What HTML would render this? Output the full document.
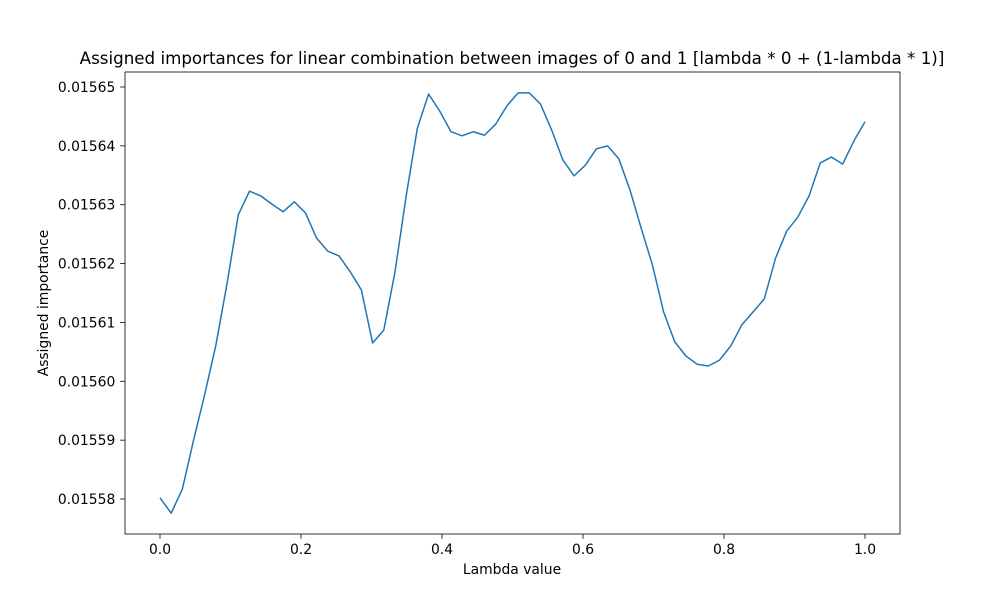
<!DOCTYPE html>
<html><head><meta charset="utf-8"><style>
body{margin:0;background:#fff;}
svg{font-family:"DejaVu Sans","Liberation Sans",sans-serif;}
</style></head><body>
<svg id="chart" width="1000" height="600" xmlns="http://www.w3.org/2000/svg"></svg>
<script>
const values = [0.0155802,0.0155776,0.0155817,0.0155900,0.0155978,0.0156062,0.0156167,0.0156283,0.0156323,0.0156315,0.0156301,0.0156288,0.0156305,0.0156286,0.0156243,0.0156221,0.0156213,0.0156186,0.0156155,0.0156065,0.0156087,0.0156186,0.0156315,0.0156430,0.0156488,0.0156459,0.0156424,0.0156417,0.0156424,0.0156418,0.0156437,0.0156468,0.0156490,0.0156490,0.0156471,0.0156427,0.0156376,0.0156349,0.0156367,0.0156395,0.0156400,0.0156378,0.0156325,0.0156260,0.0156198,0.0156118,0.0156067,0.0156043,0.0156029,0.0156026,0.0156036,0.0156060,0.0156096,0.0156118,0.0156140,0.0156209,0.0156255,0.0156279,0.0156315,0.0156371,0.0156381,0.0156369,0.0156408,0.0156441];
const xTicks = [0.0,0.2,0.4,0.6,0.8,1.0];
const xTickLabels = ["0.0","0.2","0.4","0.6","0.8","1.0"];
const yTicks = [0.01558,0.01559,0.01560,0.01561,0.01562,0.01563,0.01564,0.01565];
const yTickLabels = ["0.01558","0.01559","0.01560","0.01561","0.01562","0.01563","0.01564","0.01565"];

const svg = document.getElementById('chart');
const NS = 'http://www.w3.org/2000/svg';
const L=125,R=900,T=72,B=534;
const xScale = v => 160 + v*705;
const yScale = v => 87 + (0.01565 - v)/1e-5*58.86;
function mk(tag, attrs, text){const e=document.createElementNS(NS,tag);for(const k in attrs)e.setAttribute(k,attrs[k]);if(text!==undefined)e.textContent=text;svg.appendChild(e);return e;}

const n = values.length;
const pts = values.map((v,i)=>xScale(i/(n-1)).toFixed(2)+','+yScale(v).toFixed(2)).join(' ');
const line = mk('polyline',{points:pts,fill:'none',stroke:'#1f77b4','stroke-width':1.5,'stroke-linejoin':'round'});



const frame = mk('rect',{x:L,y:T,width:R-L,height:B-T,fill:'none',stroke:'#000','stroke-width':0.8});



xTicks.forEach((t,i)=>{
  const x=xScale(t);
  const tk = mk('line',{x1:x,x2:x,y1:B,y2:B+4.9,stroke:'#000','stroke-width':0.8});
  
  
  const lb = mk('text',{x:x,y:B+20,'font-size':13.9,'text-anchor':'middle'},xTickLabels[i]);
  
  
});
yTicks.forEach((t,i)=>{
  const y=yScale(t);
  const tk = mk('line',{x1:L-4.9,x2:L,y1:y,y2:y,stroke:'#000','stroke-width':0.8});
  
  
  const lb = mk('text',{x:L-9.7,y:y+5,'font-size':13.9,'text-anchor':'end'},yTickLabels[i]);
  
  
});
const xt = mk('text',{x:512,y:574,'font-size':13.9,'text-anchor':'middle'},'Lambda value');


const yt = mk('text',{x:48,y:303,'font-size':13.9,'text-anchor':'middle',transform:'rotate(-90 48 303)'},'Assigned importance');


const title = mk('text',{x:512,y:64,'font-size':16.7,'text-anchor':'middle'},'Assigned importances for linear combination between images of 0 and 1 [lambda * 0 + (1-lambda * 1)]');


</script>
</body></html>
